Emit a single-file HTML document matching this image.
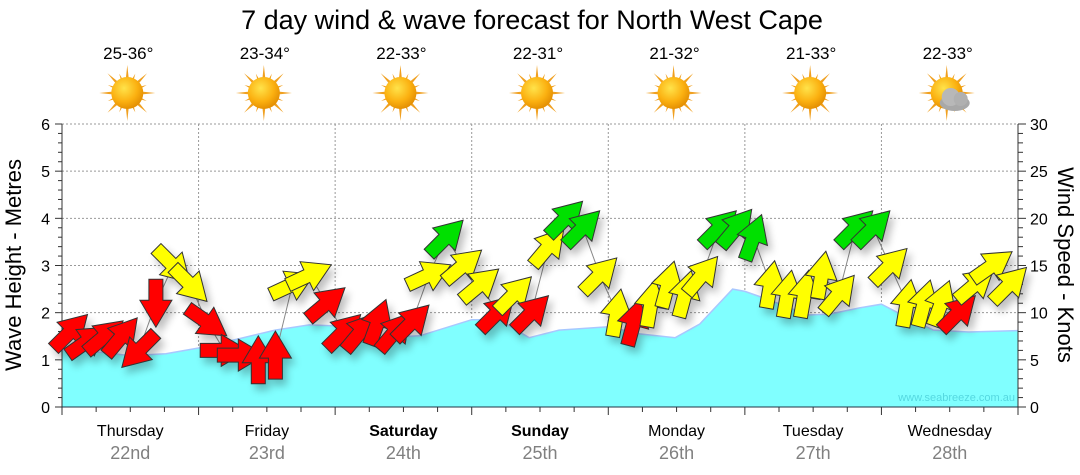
<!DOCTYPE html>
<html><head><meta charset="utf-8">
<style>
body{margin:0;background:#fff;}
svg{display:block;font-family:"Liberation Sans",sans-serif;}
</style></head>
<body>
<svg id="chart" width="1080" height="475" viewBox="0 0 1080 475" xmlns="http://www.w3.org/2000/svg">
<defs>
<radialGradient id="sunG" cx="40%" cy="35%" r="70%"><stop offset="0" stop-color="#ffe34a"/><stop offset="0.6" stop-color="#fbb010"/><stop offset="1" stop-color="#e08a00"/></radialGradient>
<filter id="sh" x="-50%" y="-50%" width="200%" height="200%"><feGaussianBlur in="SourceAlpha" stdDeviation="4"/><feOffset dx="4" dy="6"/><feComponentTransfer><feFuncA type="linear" slope="0.25"/></feComponentTransfer><feMerge><feMergeNode/><feMergeNode in="SourceGraphic"/></feMerge></filter>
</defs>
<text x="532" y="29" font-size="27" text-anchor="middle" fill="#000">7 day wind &amp; wave forecast for North West Cape</text>
<g id="grid"></g>
<g id="wave"></g>
<g id="axes"></g>
<g id="windline"></g>
<g id="arrows" filter="url(#sh)"></g>
<g id="days"></g>
<g id="weather"></g>
<text x="1015" y="401" font-size="11" text-anchor="end" fill="#55d8e0">www.seabreeze.com.au</text>
<text transform="translate(21,265) rotate(-90)" font-size="22" text-anchor="middle">Wave Height - Metres</text>
<text transform="translate(1058,265) rotate(90)" font-size="22" text-anchor="middle">Wind Speed - Knots</text>
</svg>
<script>
const dayNames=["Thursday","Friday","Saturday","Sunday","Monday","Tuesday","Wednesday"];
const dayDates=["22nd","23rd","24th","25th","26th","27th","28th"];
const boldDays=[false,false,true,true,false,false,false];
const tempRanges=["25-36°","23-34°","22-33°","22-31°","21-32°","21-33°","22-33°"];
const cloudy=[false,false,false,false,false,false,true];
const waveTimes=[0,0.28,0.5,0.76,1,1.3,1.56,1.81,2,2.33,2.62,3,3.2,3.42,3.64,4,4.23,4.49,4.67,4.91,5,5.18,5.46,5.62,5.84,6,6.2,6.38,6.64,7];
const waveHeights=[1.2,1.16,1.09,1.13,1.25,1.45,1.63,1.74,1.72,1.47,1.51,1.85,1.85,1.47,1.63,1.7,1.55,1.47,1.76,2.5,2.45,2.27,1.95,1.97,2.1,2.18,1.88,1.63,1.59,1.62];
const windSpeeds=[8,7,7.5,7.5,6,11,15,13, 9,6,5.5,5,5.5,13,14,11, 8,8,9,8,9,14,18,15, 13,10,12,10,17,20,19,14, 10,9,11,13,12,14,19,19, 18,13,12,12,14,12,19,19, 15,11,11,11,10,13,15,13];
const windDirs=[45,55,50,40,225,180,135,135, 125,90,90,0,0,65,65,50, 45,40,20,40,45,65,45,50, 50,45,45,45,40,45,45,45, 10,15,10,15,15,40,45,40, 20,10,10,10,10,40,45,45, 45,10,15,20,45,50,55,45];
const windClass=["r","r","r","r","r","r","y","y", "r","r","r","r","r","y","y","r", "r","r","r","r","r","y","g","y", "y","r","y","r","y","g","g","y", "y","r","y","y","y","y","g","g", "g","y","y","y","y","y","g","g", "y","y","y","y","r","y","y","y"];
const leftTicks=[0,1,2,3,4,5,6];
const rightTicks=[0,5,10,15,20,25,30];

const X0=62,X1=1018,Y0=407,Y1=124;
const xs=d=>X0+(X1-X0)*d/7;
const yW=h=>Y0-(Y0-Y1)*h/6;
const yK=k=>Y0-(Y0-Y1)*k/30;
const NS="http://www.w3.org/2000/svg";
function mk(tag,attrs,parent){const e=document.createElementNS(NS,tag);for(const k in attrs)e.setAttribute(k,attrs[k]);parent.appendChild(e);return e;}
const grid=document.getElementById('grid'),axes=document.getElementById('axes');
leftTicks.forEach(t=>{
  if(t>0){const l=mk('line',{x1:X0,x2:X1,y1:yW(t),y2:yW(t),stroke:'#999','stroke-dasharray':'2,2','stroke-width':1},grid);
  
  }
  const tx=mk('text',{x:X0-12,y:yW(t)+6,'font-size':16,'text-anchor':'end'},axes);tx.textContent=t;
  
  
});
for(let i=0;i<=30;i++){const y=Y0-(Y0-Y1)*i/30;mk('line',{x1:X0-(i%5==0?7:4),x2:X0,y1:y,y2:y,stroke:'#333'},axes);}
for(let i=0;i<=30;i++){const y=yK(i);mk('line',{x1:X1,x2:X1+(i%5==0?8:5),y1:y,y2:y,stroke:'#333'},axes);}
rightTicks.forEach(t=>{const tx=mk('text',{x:X1+12,y:yK(t)+6,'font-size':16},axes);tx.textContent=t;
  
  });
for(let d=1;d<7;d++){const l=mk('line',{x1:xs(d),x2:xs(d),y1:Y1,y2:Y0,stroke:'#999','stroke-dasharray':'2,2'},grid);
  
  }
for(let q=0;q<=28;q++){const x=xs(q/4);mk('line',{x1:x,x2:x,y1:Y0,y2:Y0+(q%4==0?8:5),stroke:'#333'},axes);}
mk('line',{x1:X0,x2:X0,y1:Y1,y2:Y0,stroke:'#333'},axes);
mk('line',{x1:X1,x2:X1,y1:Y1,y2:Y0,stroke:'#333'},axes);
mk('line',{x1:X0,x2:X1,y1:Y0,y2:Y0,stroke:'#234'},axes);
let pts=waveTimes.map((t,i)=>xs(t).toFixed(1)+','+yW(waveHeights[i]).toFixed(1));
const wv=document.getElementById('wave');
const wa=mk('polygon',{points:xs(0)+','+Y0+' '+pts.join(' ')+' '+xs(7)+','+Y0,fill:'#80ffff'},wv);


mk('polyline',{points:pts.join(' '),fill:'none',stroke:'#a8c8ff','stroke-width':1.5},wv);
const wl=document.getElementById('windline'),ag=document.getElementById('arrows');
const wpts=windSpeeds.map((s,i)=>xs((i+0.5)/8).toFixed(1)+','+yK(s).toFixed(1));
const wline=mk('polyline',{points:wpts.join(' '),fill:'none',stroke:'#888','stroke-width':1},wl);


const cols={r:'#ff0000',y:'#ffff00',g:'#00e000'};
const shape="M-7,24 L-7,3 L-16,3 L0,-24 L16,3 L7,3 L7,24 Z";
windSpeeds.forEach((s,i)=>{
  const x=xs((i+0.5)/8),y=yK(s);
  const a=mk('path',{d:shape,fill:cols[windClass[i]],stroke:'#333','stroke-width':1,transform:`translate(${x.toFixed(1)},${y.toFixed(1)}) rotate(${windDirs[i]})`},ag);
  
  
});
const dg=document.getElementById('days'),wg=document.getElementById('weather');
dayNames.forEach((n,d)=>{
  const cx=xs(d+0.5);
  const t=mk('text',{x:cx,y:436,'font-size':16,'text-anchor':'middle','font-weight':boldDays[d]?'bold':'normal'},dg);t.textContent=n;
  
  
  const t2=mk('text',{x:cx,y:459,'font-size':18,'text-anchor':'middle',fill:'#808080'},dg);t2.textContent=dayDates[d];
  
  
  const tt=mk('text',{x:cx-2,y:59,'font-size':17,'text-anchor':'middle'},wg);tt.textContent=tempRanges[d];
  
  
  const g=mk('g',{transform:`translate(${cx-3},93)`},wg);
  
  
  for(let k=0;k<16;k++){const L=k%2?21:28;mk('polygon',{points:`-3,0 3,0 0,-${L}`,fill:'#f0a020',transform:`rotate(${k*22.5})`},g);}
  mk('circle',{r:16,fill:'url(#sunG)'},g);
  if(cloudy[d]){mk('ellipse',{cx:8,cy:10,rx:15,ry:8,fill:'#a8a8a8'},g);mk('circle',{cx:4,cy:4,r:9,fill:'#b8b8b8'},g);mk('circle',{cx:14,cy:6,r:7,fill:'#b0b0b0'},g);}
});
</script>
</body></html>
